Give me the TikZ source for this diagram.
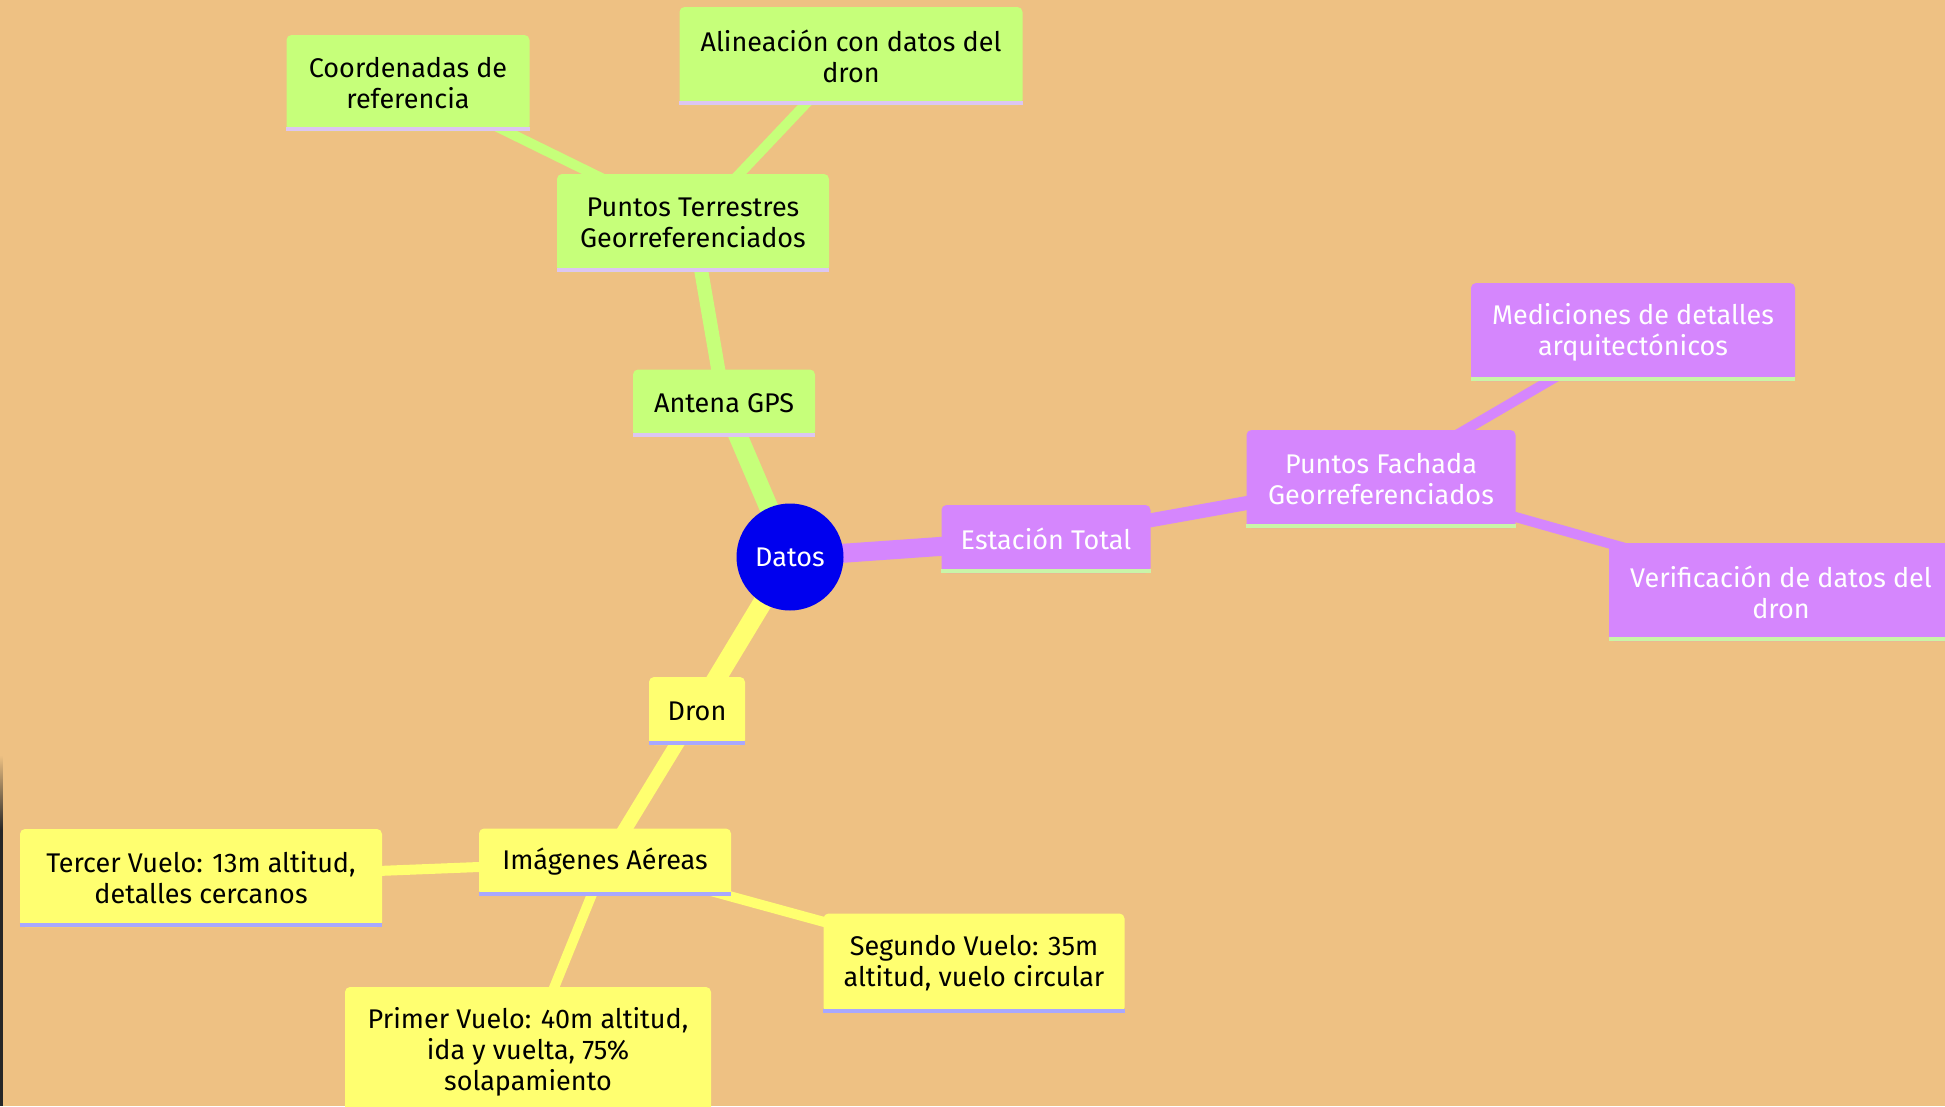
\documentclass[tikz,border=0pt]{standalone}
\usepackage{fontspec}
\setmainfont{Fira Sans}
\usepackage{xcolor}
\usepackage{tikz}
\usetikzlibrary{positioning,backgrounds}

\definecolor{bgsand}{HTML}{EEC183}
\definecolor{leafgreen}{HTML}{C6FF7A}
\definecolor{leafpurple}{HTML}{D586FD}
\definecolor{leafyellow}{HTML}{FFFF70}
\definecolor{rootblue}{HTML}{0000EE}
\definecolor{lavline}{HTML}{DCC6F2}
\definecolor{mintline}{HTML}{C9F5A8}
\definecolor{periline}{HTML}{A8A8FF}

\begin{document}
\begin{tikzpicture}[
  x=1pt, y=-1pt,
  box/.style={rectangle, rounded corners=5pt, fill=#1, align=center, inner sep=0pt,
    font=\fontsize{27}{31}\selectfont},
  strip/.style={append after command={([yshift=2pt]\tikzlastnode.south west)
    edge[draw=#1, line width=4pt, rounded corners=0pt] ([yshift=2pt]\tikzlastnode.south east)}},
  gbox/.style={box=leafgreen, text=black, strip=lavline},
  pbox/.style={box=leafpurple, text=white, strip=mintline},
  ybox/.style={box=leafyellow, text=black, strip=periline},
  root/.style={circle, fill=rootblue, text=white, minimum size=107pt, inner sep=0pt,
    font=\fontsize{27}{31}\selectfont},
  lvlone/.style={line width=19pt, draw=#1},
  lvltwo/.style={line width=14pt, draw=#1},
  lvlthree/.style={line width=10pt, draw=#1}
]
  \useasboundingbox (0,0) rectangle (1945,1106);
  \clip (0,0) rectangle (1945,1106);

  % ===== CENTRE =====
  \node[root] (datos) at (790,557) {Datos};

  % green branch
  \node[gbox, minimum width=182pt, minimum height=67pt] (gps) at (724,403) {Antena GPS};
  \node[gbox, minimum width=272pt, minimum height=98pt] (pterr) at (693,223) {Puntos Terrestres\\Georreferenciados};
  \node[gbox, minimum width=243pt, minimum height=96pt] (coord) at (408,83) {Coordenadas de\\referencia};
  \node[gbox, minimum width=343pt, minimum height=98pt] (alin) at (851,56) {Alineación con datos del\\dron};

  % purple branch
  \node[pbox, minimum width=209pt, minimum height=68pt] (estac) at (1046,539) {Estación Total};
  \node[pbox, minimum width=269pt, minimum height=98pt] (pfach) at (1381,479) {Puntos Fachada\\Georreferenciados};
  \node[pbox, minimum width=324pt, minimum height=98pt] (medic) at (1633,332) {Mediciones de detalles\\arquitectónicos};
  \node[pbox, minimum width=344pt, minimum height=98pt] (verif) at (1781,592) {Verificación de datos del\\dron};

  % yellow branch
  \node[ybox, minimum width=96pt, minimum height=68pt] (dron) at (697,711) {Dron};
  \node[ybox, minimum width=252pt, minimum height=67pt] (imag) at (605,862) {Imágenes Aéreas};
  \node[ybox, minimum width=362pt, minimum height=98pt] (tercer) at (201,878) {Tercer Vuelo: 13m altitud,\\detalles cercanos};
  \node[ybox, minimum width=301pt, minimum height=99pt] (segundo) at (974,963) {Segundo Vuelo: 35m\\altitud, vuelo circular};
  \node[ybox, minimum width=366pt, minimum height=130pt] (primer) at (528,1052) {Primer Vuelo: 40m altitud,\\ida y vuelta, 75\%\\solapamiento};

  % ===== LINKS =====
  \begin{scope}[on background layer]
    \fill[bgsand] (0,0) rectangle (1945,1106);
    \shade[top color=bgsand, bottom color=black!85] (0,755) rectangle (2.5,830);
    \fill[black!85] (0,830) rectangle (2.5,1106);

    \draw[lvlone=leafgreen] (datos.center) -- (gps.center);
    \draw[lvltwo=leafgreen] (gps.center) -- (pterr.center);
    \draw[lvlthree=leafgreen] (pterr.center) -- (coord.center);
    \draw[lvlthree=leafgreen] (pterr.center) -- (alin.center);

    \draw[lvlone=leafpurple] (datos.center) -- (estac.center);
    \draw[lvltwo=leafpurple] (estac.center) -- (pfach.center);
    \draw[lvlthree=leafpurple] (pfach.center) -- (medic.center);
    \draw[lvlthree=leafpurple] (pfach.center) -- (verif.center);

    \draw[lvlone=leafyellow] (datos.center) -- (dron.center);
    \draw[lvltwo=leafyellow] (dron.center) -- (imag.center);
    \draw[lvlthree=leafyellow] (imag.center) -- (tercer.center);
    \draw[lvlthree=leafyellow] (imag.center) -- (segundo.center);
    \draw[lvlthree=leafyellow] (imag.center) -- (primer.center);
  \end{scope}
\end{tikzpicture}
\end{document}
